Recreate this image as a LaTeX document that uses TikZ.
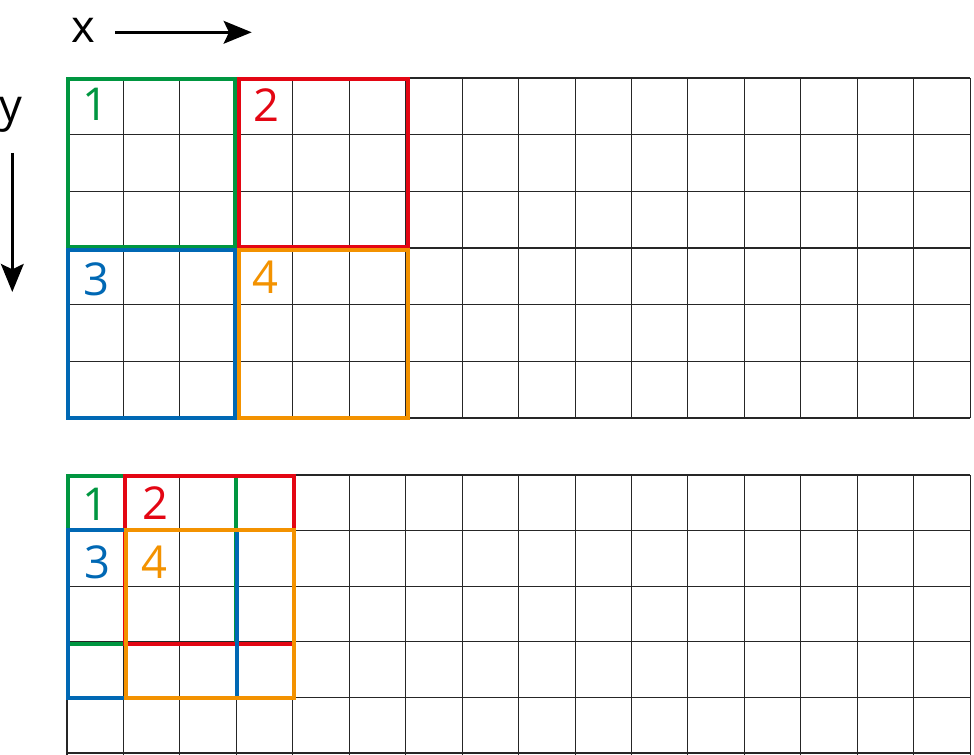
\documentclass[tikz,border=0pt]{standalone}
\usepackage{fontspec}
\setmainfont{Open Sans}
\usetikzlibrary{arrows.meta}
\definecolor{cgreen}{HTML}{009640}
\definecolor{cred}{HTML}{E30613}
\definecolor{cblue}{HTML}{0068B4}
\definecolor{corange}{HTML}{F39200}
\tikzset{
  gridline/.style={black!85, line width=0.8pt},
  win/.style={line width=3pt},
  lab/.style={font=\fontsize{34}{34}\selectfont, inner sep=0pt, anchor=center},
  axis/.style={line width=2.3pt, -{Stealth[length=21pt, width=17pt, inset=4pt]}},
}
\begin{document}
\begin{tikzpicture}[x=0.75pt, y=-0.75pt]
\useasboundingbox (0,0) rectangle (974,755);
% top grid
\foreach \i in {0,...,16} \draw[gridline] ({67+56.45*\i},78) -- ({67+56.45*\i},418);
\foreach \j in {0,...,6} \draw[gridline] (67,{78+56.67*\j}) -- (970,{78+56.67*\j});
% bottom grid
\foreach \i in {0,...,16} \draw[gridline] ({67+56.45*\i},475) -- ({67+56.45*\i},755);
\foreach \j in {0,...,5} \draw[gridline] (67,{475+55.6*\j}) -- (970,{475+55.6*\j});
% top windows
\draw[win, cgreen] (67.7,78.8) rectangle (235.3,246.7);
\draw[win, cred] (239.3,78.8) rectangle (407.7,246.7);
\draw[win, cblue] (67.7,250.3) rectangle (235.3,417.7);
\draw[win, corange] (239.3,250.3) rectangle (407.7,417.7);
\node[lab, text=cgreen] (t1) at (95,104.5) {1};
\node[lab, text=cred] (t2) at (266,105.5) {2};
\node[lab, text=cblue] (t3) at (96,279) {3};
\node[lab, text=corange] (t4) at (265,277) {4};
% bottom windows (stride 1)
\draw[win, cgreen] (67.8,475.8) rectangle (236.3,643.5);
\draw[win, cred] (125,475.8) rectangle (293.5,643.5);
\draw[win, cblue] (68.3,529.8) rectangle (236.7,698.3);
\draw[win, corange] (125.5,529.8) rectangle (293.5,698.3);
\node[lab, text=cgreen] (b1) at (95,504.5) {1};
\node[lab, text=cred] (b2) at (155,503.5) {2};
\node[lab, text=cblue] (b3) at (97,562) {3};
\node[lab, text=corange] (b4) at (154,562) {4};
% axes
\node[lab] (xl) at (83,30) {x};
\node[lab] (yl) at (11,115) {y};
\coordinate (xs) at (115,32.3);
\coordinate (xe) at (251.7,32.3);
\coordinate (ys) at (12.3,153);
\coordinate (ye) at (12.3,292);
\draw[axis] (xs) -- (xe);
\draw[axis] (ys) -- (ye);
\end{tikzpicture}
\end{document}
